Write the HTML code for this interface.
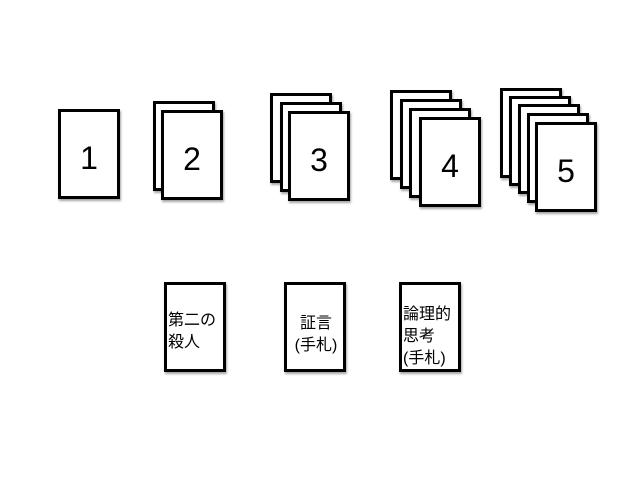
<!DOCTYPE html>
<html><head><meta charset="utf-8"><style>
body{margin:0;width:640px;height:480px;background:#fff;position:relative;overflow:hidden;font-family:"Liberation Sans","Noto Sans CJK JP",sans-serif}
.c{position:absolute;box-sizing:border-box;border:3px solid #000;background:#fff;box-shadow:1px 2px 2px rgba(0,0,0,.35);width:62px;height:90px}
.n{display:flex;align-items:center;justify-content:center;font-size:32px;padding-top:8px}
.t{font-size:16px;line-height:22px}
</style></head><body>
<div class="c n" style="left:58px;top:109px">1</div>

<div class="c" style="left:153px;top:101px"></div>
<div class="c n" style="left:161px;top:110px">2</div>

<div class="c" style="left:270px;top:93px"></div>
<div class="c" style="left:280px;top:102px"></div>
<div class="c n" style="left:288px;top:111px">3</div>

<div class="c" style="left:390px;top:90px"></div>
<div class="c" style="left:400px;top:99px"></div>
<div class="c" style="left:409px;top:108px"></div>
<div class="c n" style="left:419px;top:117px">4</div>

<div class="c" style="left:500px;top:88px"></div>
<div class="c" style="left:509px;top:96px"></div>
<div class="c" style="left:518px;top:104px"></div>
<div class="c" style="left:527px;top:113px"></div>
<div class="c n" style="left:535px;top:122px">5</div>

<div class="c t" style="left:164px;top:282px;padding-top:25px;padding-left:1px">第二の<br>殺人</div>
<div class="c t" style="left:284px;top:282px;padding-top:28px;padding-left:2px;text-align:center">証言<br>(手札)</div>
<div class="c t" style="left:399px;top:282px;padding-top:19px;padding-left:1px">論理的<br>思考<br>(手札)</div>
</body></html>
